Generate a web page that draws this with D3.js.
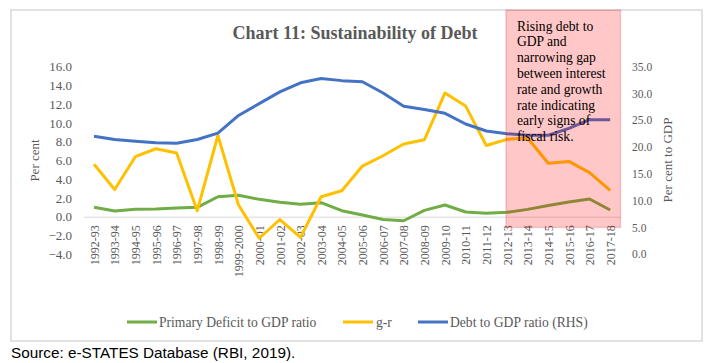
<!DOCTYPE html>
<html>
<head>
<meta charset="utf-8">
<script src="https://cdn.jsdelivr.net/npm/d3@7"></script>
<style>
  body { margin: 0; background: #fff; }
  svg text { font-family: "Liberation Serif", "Times New Roman", serif; }
</style>
</head>
<body>
<svg id="chart" width="711" height="363"></svg>
<script>
// data
const years = ["1992-93", "1993-94", "1994-95", "1995-96", "1996-97", "1997-98", "1998-99",
    "1999-2000", "2000-01", "2001-02", "2002-03", "2003-04", "2004-05", "2005-06", "2006-07",
    "2007-08", "2008-09", "2009-10", "2010-11", "2011-12", "2012-13", "2013-14", "2014-15",
    "2015-16", "2016-17", "2017-18"];

const primaryDeficit = [1.0, 0.6, 0.8, 0.82, 0.93, 1.0, 2.13, 2.28, 1.85, 1.55, 1.32, 1.5, 0.64,
    0.18, -0.3, -0.43, 0.67, 1.25, 0.5, 0.36, 0.47, 0.78, 1.2, 1.57, 1.89, 0.71];

const gMinusR = [5.6, 2.9, 6.4, 7.25, 6.8, 0.64, 8.65, 1.25, -2.3, -0.3, -2.2, 2.13, 2.77,
    5.4, 6.5, 7.75, 8.2, 13.2, 11.8, 7.6, 8.25, 8.4, 5.7, 5.9, 4.7, 2.8];

const debtToGdp = [22.0, 21.4, 21.1, 20.8, 20.7, 21.4, 22.6, 25.9, 28.1, 30.3, 32.0, 32.8, 32.4,
    32.2, 30.1, 27.6, 27.0, 26.3, 24.3, 23.0, 22.5, 22.2, 22.2, 23.5, 25.1, 25.1];

const leftTicks = [-4, -2, 0, 2, 4, 6, 8, 10, 12, 14, 16];
const rightTicks = [0, 5, 10, 15, 20, 25, 30, 35];

const series = [
    { name: "Primary Deficit to GDP ratio", values: primaryDeficit, color: "#70AD47", axis: "left" },
    { name: "g-r", values: gMinusR, color: "#FFC000", axis: "left" },
    { name: "Debt to GDP ratio (RHS)", values: debtToGdp, color: "#4472C4", axis: "right" }
];

const noteLines = ["Rising debt to", "GDP and", "narrowing gap", "between interest",
    "rate and growth", "rate indicating", "early signs of", "fiscal risk."];

const svg = d3.select("#chart");

const plot = { left: 83.7, right: 620.5, top: 66.7, bottom: 254.2 };

const x = d3.scalePoint().domain(years).range([plot.left, plot.right]).padding(0.5);
const yL = d3.scaleLinear().domain([-4, 16]).range([plot.bottom, plot.top]);
const yR = d3.scaleLinear().domain([0, 35]).range([plot.bottom, plot.top]);

// outer frame
svg.append("rect")
    .attr("x", 11).attr("y", 10)
    .attr("width", 691).attr("height", 331)
    .attr("fill", "none")
    .attr("stroke", "#d9d9d9")
    .attr("stroke-width", 1.5);

// title
svg.append("text")
    .attr("x", 355).attr("y", 38.5)
    .attr("text-anchor", "middle")
    .attr("font-size", 18)
    .attr("font-weight", "bold")
    .attr("fill", "#595959")
    .text("Chart 11: Sustainability of Debt");

// left axis
const leftAxis = svg.append("g")
    .attr("transform", "translate(72,0)")
    .call(d3.axisLeft(yL).tickValues(leftTicks).tickFormat(d3.format(".1f")).tickSize(0).tickPadding(0));
leftAxis.select(".domain").remove();
leftAxis.selectAll("text")
    .attr("font-size", 13)
    .attr("fill", "#595959");

// right axis
const rightAxis = svg.append("g")
    .attr("transform", "translate(632,0)")
    .call(d3.axisRight(yR).tickValues(rightTicks).tickFormat(d3.format(".1f")).tickSize(0).tickPadding(0));
rightAxis.select(".domain").remove();
rightAxis.selectAll("text")
    .attr("font-size", 11.5)
    .attr("fill", "#595959");

// x axis along zero
const xAxis = svg.append("g")
    .attr("transform", `translate(0,${yL(0)})`)
    .call(d3.axisBottom(x).tickSize(0).tickSizeOuter(0));
xAxis.select(".domain").attr("stroke", "#d9d9d9").attr("stroke-width", 1);
xAxis.selectAll("text")
    .attr("font-size", 12)
    .attr("fill", "#595959")
    .attr("transform", "rotate(-90)")
    .attr("text-anchor", "end")
    .attr("x", -8.5)
    .attr("y", 0)
    .attr("dy", "0.35em");

// axis titles
svg.append("text")
    .attr("transform", "translate(39,160.5) rotate(-90)")
    .attr("text-anchor", "middle")
    .attr("font-size", 13)
    .attr("fill", "#595959")
    .text("Per cent");

svg.append("text")
    .attr("transform", "translate(672,160) rotate(-90)")
    .attr("text-anchor", "middle")
    .attr("font-size", 13)
    .attr("fill", "#595959")
    .text("Per cent to GDP");

// lines
series.forEach(s => {
    const yScale = s.axis === "left" ? yL : yR;
    const line = d3.line()
        .x((d, i) => x(years[i]))
        .y(d => yScale(d));
    svg.append("path")
        .datum(s.values)
        .attr("fill", "none")
        .attr("stroke", s.color)
        .attr("stroke-width", 3)
        .attr("stroke-linejoin", "round")
        .attr("d", line);
});

// annotation box over the recent years
const boxLeft = x("2012-13") - 1;
svg.append("rect")
    .attr("x", boxLeft).attr("y", 10)
    .attr("width", plot.right - boxLeft).attr("height", yR(5) - 10)
    .attr("fill", "rgba(255,0,0,0.22)")
    .attr("stroke", "rgba(200,80,80,0.25)")
    .attr("stroke-width", 1.5);

svg.append("g")
    .selectAll("text")
    .data(noteLines)
    .enter().append("text")
    .attr("x", boxLeft + 11)
    .attr("y", (d, i) => 30.5 + i * 15.8)
    .attr("font-size", 13.6)
    .attr("fill", "#000")
    .text(d => d);

// legend
const legendItems = [
    { x: 127, textX: 159 },
    { x: 343, textX: 376 },
    { x: 418, textX: 450 }
];
const legend = svg.append("g");
series.forEach((s, i) => {
    const it = legendItems[i];
    legend.append("line")
        .attr("x1", it.x).attr("x2", it.x + 30)
        .attr("y1", 322).attr("y2", 322)
        .attr("stroke", s.color)
        .attr("stroke-width", 3);
    legend.append("text")
        .attr("x", it.textX).attr("y", 326.5)
        .attr("font-size", 13.6)
        .attr("fill", "#595959")
        .text(s.name);
});

// source (sans-serif, so set as style to beat the css rule)
svg.append("text")
    .attr("x", 11).attr("y", 357.5)
    .style("font-family", "'Liberation Sans', Arial, sans-serif")
    .attr("font-size", 15.3)
    .attr("fill", "#000")
    .text("Source: e-STATES Database (RBI, 2019).");
</script>
</body>
</html>
